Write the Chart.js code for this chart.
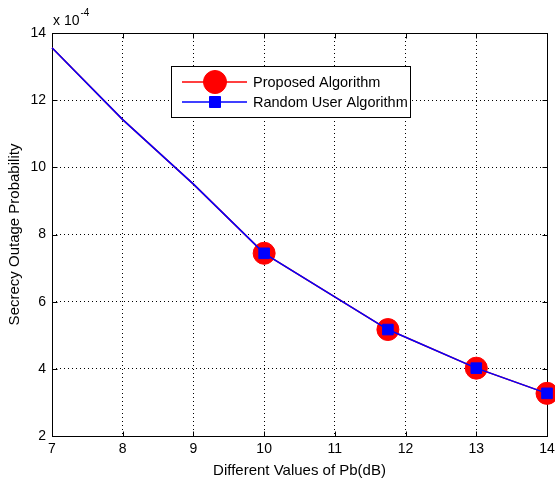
<!DOCTYPE html>
<html>
<head>
<meta charset="utf-8">
<script src="https://cdn.jsdelivr.net/npm/chart.js@4"></script>
<style>
  html, body { margin: 0; padding: 0; background: #fff; }
  #wrap { width: 555px; height: 486px; }
</style>
</head>
<body>
<div id="wrap"><canvas id="chart" width="555" height="486"></canvas></div>
<script>
// Pb (dB) values and outage probabilities (in units of 1e-4)
const pbValues = [7, 8, 9, 10, 11.75, 13, 14];
const proposedAlgorithm = [13.56, 11.42, 9.5, 7.44, 5.17, 4.02, 3.27];
const randomUserAlgorithm = [13.56, 11.42, 9.5, 7.44, 5.17, 4.02, 3.27];
const seriesNames = ['Proposed Algorithm', 'Random User Algorithm'];
const xTicks = [7, 8, 9, 10, 11, 12, 13, 14];
const yTicks = [2, 4, 6, 8, 10, 12, 14];
const xTitle = 'Different Values of Pb(dB)';
const yTitle = 'Secrecy Outage Probability';

const FONT = '"Liberation Sans", Arial, Helvetica, sans-serif';

function toPoints(values) {
  return pbValues.map((x, i) => ({ x: x, y: values[i] }));
}

// markers are only shown from Pb = 10 onward
const hasMarker = ctx => pbValues[ctx.dataIndex] >= 10;

// matlab-like box, inward ticks, exponent label and legend
const matlabAxes = {
  id: 'matlabAxes',
  beforeDatasetsDraw(chart) {
    const { ctx, chartArea: a, scales: { x, y } } = chart;
    ctx.save();
    ctx.strokeStyle = '#000';
    ctx.lineWidth = 1;
    ctx.setLineDash([]);
    const l = Math.round(a.left) + 0.5, r = Math.round(a.right) + 0.5;
    const t = Math.round(a.top) + 0.5, b = Math.round(a.bottom) + 0.5;
    ctx.strokeRect(l, t, r - l, b - t);
    ctx.beginPath();
    xTicks.forEach(v => {
      const px = Math.round(x.getPixelForValue(v)) + 0.5;
      ctx.moveTo(px, b); ctx.lineTo(px, b - 5);
      ctx.moveTo(px, t); ctx.lineTo(px, t + 5);
    });
    yTicks.forEach(v => {
      const py = Math.round(y.getPixelForValue(v)) + 0.5;
      ctx.moveTo(l, py); ctx.lineTo(l + 5, py);
      ctx.moveTo(r, py); ctx.lineTo(r - 5, py);
    });
    ctx.stroke();

    // "x 10^-4"
    ctx.fillStyle = '#000';
    ctx.textBaseline = 'alphabetic';
    ctx.textAlign = 'left';
    ctx.font = '14px ' + FONT;
    ctx.fillText('x 10', a.left + 1, a.top - 8);
    const w = ctx.measureText('x 10').width;
    ctx.font = '10px ' + FONT;
    ctx.fillText('-4', a.left + 1 + w + 1, a.top - 17);
    ctx.restore();
  },
  afterDraw(chart) {
    const { ctx } = chart;
    const bx = 171, by = 66, bw = 239, bh = 51;
    ctx.save();
    ctx.fillStyle = '#fff';
    ctx.fillRect(bx, by, bw, bh);
    ctx.strokeStyle = '#000';
    ctx.lineWidth = 1;
    ctx.strokeRect(bx + 0.5, by + 0.5, bw, bh);
    ctx.font = '14.5px ' + FONT;
    ctx.textBaseline = 'middle';
    ctx.textAlign = 'left';
    const rows = [82, 102];
    chart.data.datasets.forEach((ds, i) => {
      const yy = rows[i];
      ctx.strokeStyle = ds.borderColor;
      ctx.lineWidth = ds.borderWidth;
      ctx.beginPath();
      ctx.moveTo(182, yy); ctx.lineTo(247, yy);
      ctx.stroke();
      ctx.lineWidth = 1;
      ctx.fillStyle = ds.pointBackgroundColor;
      ctx.strokeStyle = ds.pointBorderColor;
      ctx.beginPath();
      if (ds.pointStyle === 'circle') {
        ctx.arc(215, yy, ds.legendRadius, 0, Math.PI * 2);
      } else {
        const s = ds.legendRadius;
        ctx.rect(215 - s, yy - s, 2 * s, 2 * s);
      }
      ctx.fill();
      ctx.stroke();
      ctx.fillStyle = '#000';
      ctx.fillText(ds.label, 253, yy + 1);
    });
    ctx.restore();
  }
};

new Chart(document.getElementById('chart'), {
  type: 'line',
  data: {
    datasets: [
      {
        label: seriesNames[0],
        data: toPoints(proposedAlgorithm),
        borderColor: '#ff0000',
        borderWidth: 1.5,
        pointStyle: 'circle',
        pointRadius: ctx => hasMarker(ctx) ? 11 : 0,
        pointBackgroundColor: '#ff0000',
        pointBorderColor: '#ff0000',
        pointBorderWidth: 1,
        legendRadius: 11.5,
        tension: 0,
        clip: false,
        order: 2
      },
      {
        label: seriesNames[1],
        data: toPoints(randomUserAlgorithm),
        borderColor: '#0000ff',
        borderWidth: 1.5,
        pointStyle: 'rect',
        pointRadius: ctx => hasMarker(ctx) ? 7.5 : 0,
        pointBackgroundColor: '#0000ff',
        pointBorderColor: '#0000ff',
        pointBorderWidth: 1,
        legendRadius: 5.5,
        tension: 0,
        clip: false,
        order: 1
      }
    ]
  },
  options: {
    responsive: false,
    animation: false,
    devicePixelRatio: 1,
    layout: { autoPadding: false, padding: { top: 33, right: 8, bottom: 6, left: 2 } },
    plugins: {
      legend: { display: false },
      tooltip: { enabled: false }
    },
    scales: {
      x: {
        type: 'linear',
        min: 7,
        max: 14,
        afterBuildTicks: s => { s.ticks = xTicks.map(v => ({ value: v })); },
        afterFit: s => { s.height = 44; s.paddingLeft = 0; s.paddingRight = 0; },
        ticks: {
          color: '#000',
          font: { family: FONT, size: 14 },
          padding: 5,
          maxRotation: 0,
          autoSkip: false
        },
        grid: { color: '#000', lineWidth: 1, drawTicks: false, borderDash: [1, 3] },
        border: { display: false, dash: [1, 3] },
        title: {
          display: true,
          text: xTitle,
          color: '#000',
          font: { family: FONT, size: 15 },
          padding: { top: 2, bottom: 0 }
        }
      },
      y: {
        type: 'linear',
        min: 2,
        max: 14,
        afterBuildTicks: s => { s.ticks = yTicks.map(v => ({ value: v })); },
        afterFit: s => { s.width = 50; s.paddingTop = 0; s.paddingBottom = 0; },
        ticks: {
          color: '#000',
          font: { family: FONT, size: 14 },
          padding: 6,
          autoSkip: false
        },
        grid: { color: '#000', lineWidth: 1, drawTicks: false, borderDash: [1, 3] },
        border: { display: false, dash: [1, 3] },
        title: {
          display: true,
          text: yTitle,
          color: '#000',
          font: { family: FONT, size: 15 },
          padding: { top: 4, bottom: 4 }
        }
      }
    }
  },
  plugins: [matlabAxes]
});
</script>
</body>
</html>
